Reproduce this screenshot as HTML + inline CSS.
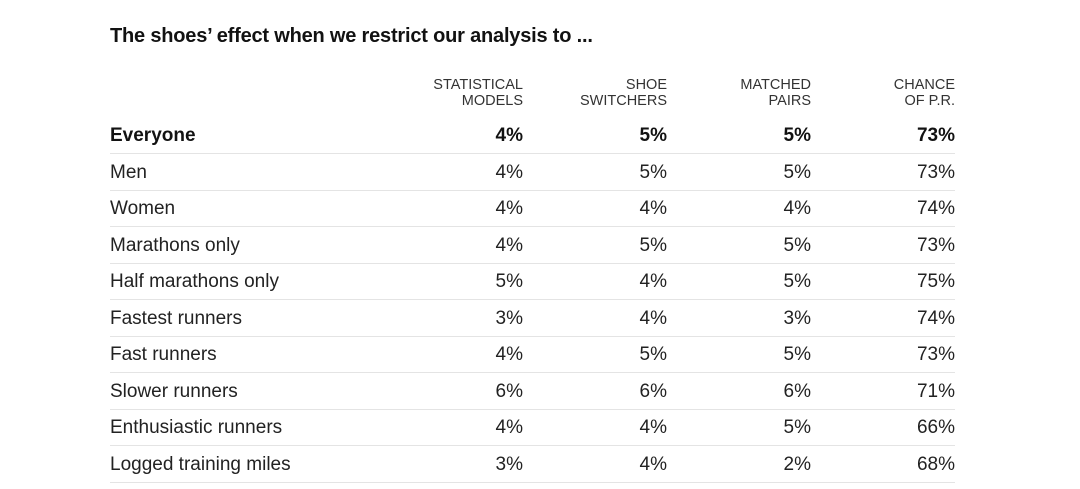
<!DOCTYPE html>
<html><head><meta charset="utf-8"><style>
body{margin:0;width:1080px;height:489px;background:#fff;font-family:"Liberation Sans",Arial,sans-serif;color:#222;position:relative;overflow:hidden}
.t{position:absolute;left:110px;top:25px;font-size:20px;font-weight:bold;color:#121212;letter-spacing:-0.2px}
.h{position:absolute;top:77px;font-size:14.5px;line-height:16px;text-align:right;color:#333;width:140px}
.r{position:absolute;left:110px;width:845px;height:36px;font-size:19px;line-height:36px;color:#222}
.r span{position:absolute;text-align:right;width:100px}
.d{position:absolute;left:110px;width:845px;height:1px;background:#e4e4e4}
</style></head><body>
<div class="t">The shoes’ effect when we restrict our analysis to ...</div>
<div class="h" style="left:383px">STATISTICAL<br>MODELS</div>
<div class="h" style="left:527px">SHOE<br>SWITCHERS</div>
<div class="h" style="left:671px">MATCHED<br>PAIRS</div>
<div class="h" style="left:815px">CHANCE<br>OF P.R.</div>
<div id="rows"></div>
<script>
var d=[["Everyone","4%","5%","5%","73%"],["Men","4%","5%","5%","73%"],["Women","4%","4%","4%","74%"],["Marathons only","4%","5%","5%","73%"],["Half marathons only","5%","4%","5%","75%"],["Fastest runners","3%","4%","3%","74%"],["Fast runners","4%","5%","5%","73%"],["Slower runners","6%","6%","6%","71%"],["Enthusiastic runners","4%","4%","5%","66%"],["Logged training miles","3%","4%","2%","68%"]];
var h="";
d.forEach(function(r,i){var y=118+i*36.55;
h+='<div class="r" style="top:'+y+'px;'+(i==0?'font-weight:bold;color:#121212':'')+'">'+r[0]+
'<span style="left:313px">'+r[1]+'</span><span style="left:457px">'+r[2]+'</span><span style="left:601px">'+r[3]+'</span><span style="left:745px">'+r[4]+'</span></div>';
h+='<div class="d" style="top:'+(153+i*36.55)+'px"></div>';});
document.getElementById("rows").innerHTML=h;
</script>
</body></html>
